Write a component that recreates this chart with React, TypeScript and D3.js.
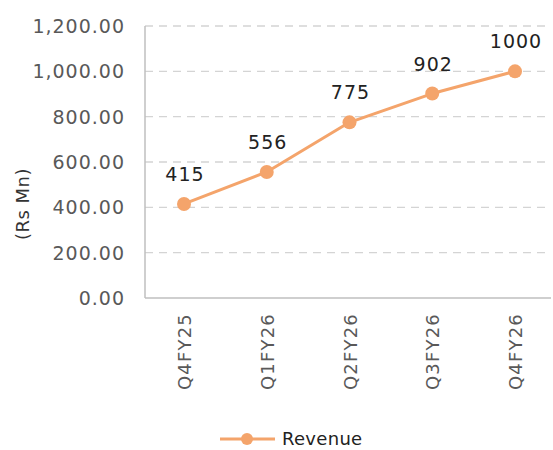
import React from "react";
import * as d3 from "d3";

const categories = ["Q4FY25", "Q1FY26", "Q2FY26", "Q3FY26", "Q4FY26"];
const revenue = [415, 556, 775, 902, 1000];
const yTicks = [0, 200, 400, 600, 800, 1000, 1200];
const seriesName = "Revenue";
const yTitle = "(Rs Mn)";

const W = 553, H = 450;
const left = 145, right = 551, top = 26, bottom = 298;
const orange = "#F4A46B";
const font = "'DejaVu Sans', sans-serif";

export default function App() {
  const x = d3.scalePoint<string>().domain(categories).range([184, 515]);
  const y = d3.scaleLinear().domain([0, 1200]).range([bottom, top]);
  const line = d3.line<number>().x((_, i) => x(categories[i])!).y(d => y(d));
  const fmt = d3.format(",.2f");
  return (
    <svg width={W} height={H} style={{ position: "absolute", left: 0, top: 0 }}>
      <rect width={W} height={H} fill="#fff" />
      {yTicks.filter(t => t > 0).map(t => (
        <line key={t} x1={left} x2={right} y1={y(t)} y2={y(t)} stroke="#d4d4d4" strokeWidth={1.3} strokeDasharray="8,6" />
      ))}
      <line x1={left} x2={left} y1={top} y2={bottom} stroke="#bfbfbf" strokeWidth={1.5} />
      <line x1={left} x2={right} y1={bottom} y2={bottom} stroke="#bfbfbf" strokeWidth={1.5} />
      {yTicks.map(t => (
        <text key={t} x={125} y={y(t) + 7} textAnchor="end" fontFamily={font} fontSize={19} letterSpacing={1} fill="#595959">{fmt(t)}</text>
      ))}
      <text transform={`translate(29,204) rotate(-90)`} textAnchor="middle" fontFamily={font} fontSize={18} letterSpacing={0.5} fill="#333">{yTitle}</text>
      {categories.map(c => (
        <text key={c} transform={`translate(${x(c)! + 7},313) rotate(-90)`} textAnchor="end" fontFamily={font} fontSize={18} letterSpacing={1.2} fill="#595959">{c}</text>
      ))}
      <path d={line(revenue)!} fill="none" stroke={orange} strokeWidth={3} strokeLinejoin="round" />
      {revenue.map((v, i) => (
        <circle key={i} cx={x(categories[i])!} cy={y(v)} r={7} fill={orange} />
      ))}
      {revenue.map((v, i) => (
        <text key={"l" + i} x={x(categories[i])! + 1} y={y(v) - 23} textAnchor="middle" fontFamily={font} fontSize={19} letterSpacing={1} fill="#222">{v}</text>
      ))}
      <line x1={220} x2={275} y1={439} y2={439} stroke={orange} strokeWidth={3} />
      <circle cx={247} cy={439} r={6} fill={orange} />
      <text x={282} y={445} fontFamily={font} fontSize={18} letterSpacing={0.3} fill="#222">{seriesName}</text>
    </svg>
  );
}
